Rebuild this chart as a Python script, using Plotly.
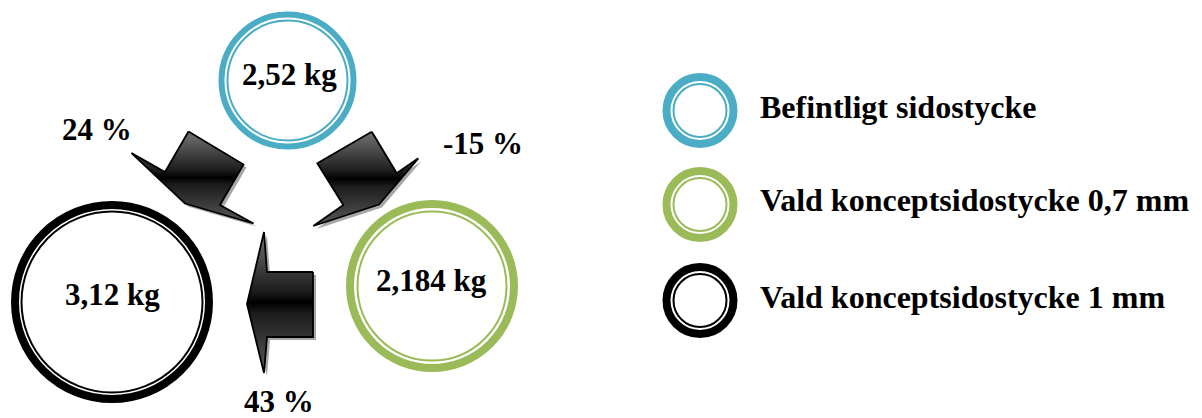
import plotly.graph_objects as go

# ---------------- data ----------------
weights_kg = [2.52, 2.184, 3.12]            # Befintligt, 0,7 mm, 1 mm
changes_pct = [24, -15, 43]                 # top->1mm, top->0,7mm, 0,7mm->1mm
legend_labels = ["Befintligt sidostycke",
                 "Vald konceptsidostycke 0,7 mm",
                 "Vald konceptsidostycke 1 mm"]

# ---------------- layout / style ----------------
W, H = 1202, 418
ring_colors = ["#4BACC6", "#9BBB59", "#000000"]
FONT = "Liberation Serif"

node_center = [(287.5, 80.5), (432, 286), (112, 302)]
node_rout = [69, 86, 101]
node_thick = [6, 8, 8]
node_thin_r = [60, 74.5, 90.5]
node_label_pos = [(289.5, 74), (431, 280), (112.5, 294.5)]

leg_center_x = 700
leg_center_y = [110.5, 204.5, 300.5]
leg_rout, leg_thick, leg_thin_r = 37.5, 8, 26.5
leg_text_x = 758
leg_text_y = [106.5, 200, 297]

pct_label_pos = [(97, 129.5), (483, 143), (279, 401)]

arrow_polys = [
    # top -> 1 mm (points down-left)
    [(188.5, 131.5), (243.5, 164.5), (220, 205), (253.5, 223.5), (185, 203.5), (131.5, 153), (165, 172)],
    # top -> 0,7 mm (points down-right)
    [(371.7, 131.7), (317.3, 163.3), (343.3, 205), (313.3, 226), (379, 204.5), (418.3, 158.3), (396.7, 173.3)],
    # 0,7 mm -> 1 mm (points left)
    [(313, 272), (267, 272), (264, 232), (247, 304), (264, 373), (267, 337), (313, 337)],
]
shadow_off = (3, 3)

fig = go.Figure()

# arrows: shadow then gradient-filled body
for poly in arrow_polys:
    xs = [p[0] for p in poly] + [poly[0][0]]
    ys = [p[1] for p in poly] + [poly[0][1]]
    fig.add_trace(go.Scatter(
        x=[v + shadow_off[0] for v in xs], y=[v + shadow_off[1] for v in ys],
        mode="lines", fill="toself", fillcolor="rgba(80,80,80,0.5)",
        line=dict(width=0), hoverinfo="skip", showlegend=False))
    fig.add_trace(go.Scatter(
        x=xs, y=ys, mode="lines", fill="toself",
        fillgradient=dict(type="vertical",
                          colorscale=[[0, "#5a5a5a"], [0.42, "#1c1c1c"], [0.5, "#000000"],
                                      [0.58, "#1c1c1c"], [1, "#747474"]]),
        line=dict(color="#000000", width=1.8), hoverinfo="skip", showlegend=False))

shapes = []

def ring(cx, cy, r_out, thick, thin_r, color, thin_w=2):
    r1 = r_out - thick / 2
    shapes.append(dict(type="circle", xref="x", yref="y",
                       x0=cx - r1, x1=cx + r1, y0=cy - r1, y1=cy + r1,
                       fillcolor="white", line=dict(color=color, width=thick)))
    shapes.append(dict(type="circle", xref="x", yref="y",
                       x0=cx - thin_r, x1=cx + thin_r, y0=cy - thin_r, y1=cy + thin_r,
                       line=dict(color=color, width=thin_w)))

for i in range(3):
    cx, cy = node_center[i]
    ring(cx, cy, node_rout[i], node_thick[i], node_thin_r[i], ring_colors[i])
    ring(leg_center_x, leg_center_y[i], leg_rout, leg_thick, leg_thin_r, ring_colors[i])

annotations = []
for i, w in enumerate(weights_kg):
    txt = f"{w:g}".replace(".", ",") + " kg"
    x, y = node_label_pos[i]
    annotations.append(dict(x=x, y=y, xref="x", yref="y", text=f"<b>{txt}</b>",
                            showarrow=False, xanchor="center", yanchor="middle",
                            font=dict(family=FONT, size=31, color="black")))
for i, c in enumerate(changes_pct):
    x, y = pct_label_pos[i]
    annotations.append(dict(x=x, y=y, xref="x", yref="y", text=f"<b>{c} %</b>",
                            showarrow=False, xanchor="center", yanchor="middle",
                            font=dict(family=FONT, size=31, color="black")))
for i, lab in enumerate(legend_labels):
    annotations.append(dict(x=leg_text_x, y=leg_text_y[i], xref="x", yref="y",
                            text=f"<b>{lab}</b>", showarrow=False,
                            xanchor="left", yanchor="middle",
                            font=dict(family=FONT, size=32, color="black")))

fig.update_layout(
    width=W, height=H, autosize=False,
    margin=dict(l=0, r=0, t=0, b=0),
    paper_bgcolor="white", plot_bgcolor="white",
    xaxis=dict(range=[0, W], visible=False, fixedrange=True),
    yaxis=dict(range=[H, 0], visible=False, fixedrange=True),
    shapes=shapes, annotations=annotations, showlegend=False,
)

fig.write_html("out.html", config={"displayModeBar": False},
               post_script="document.body.style.margin='0';document.body.style.overflow='hidden';")
